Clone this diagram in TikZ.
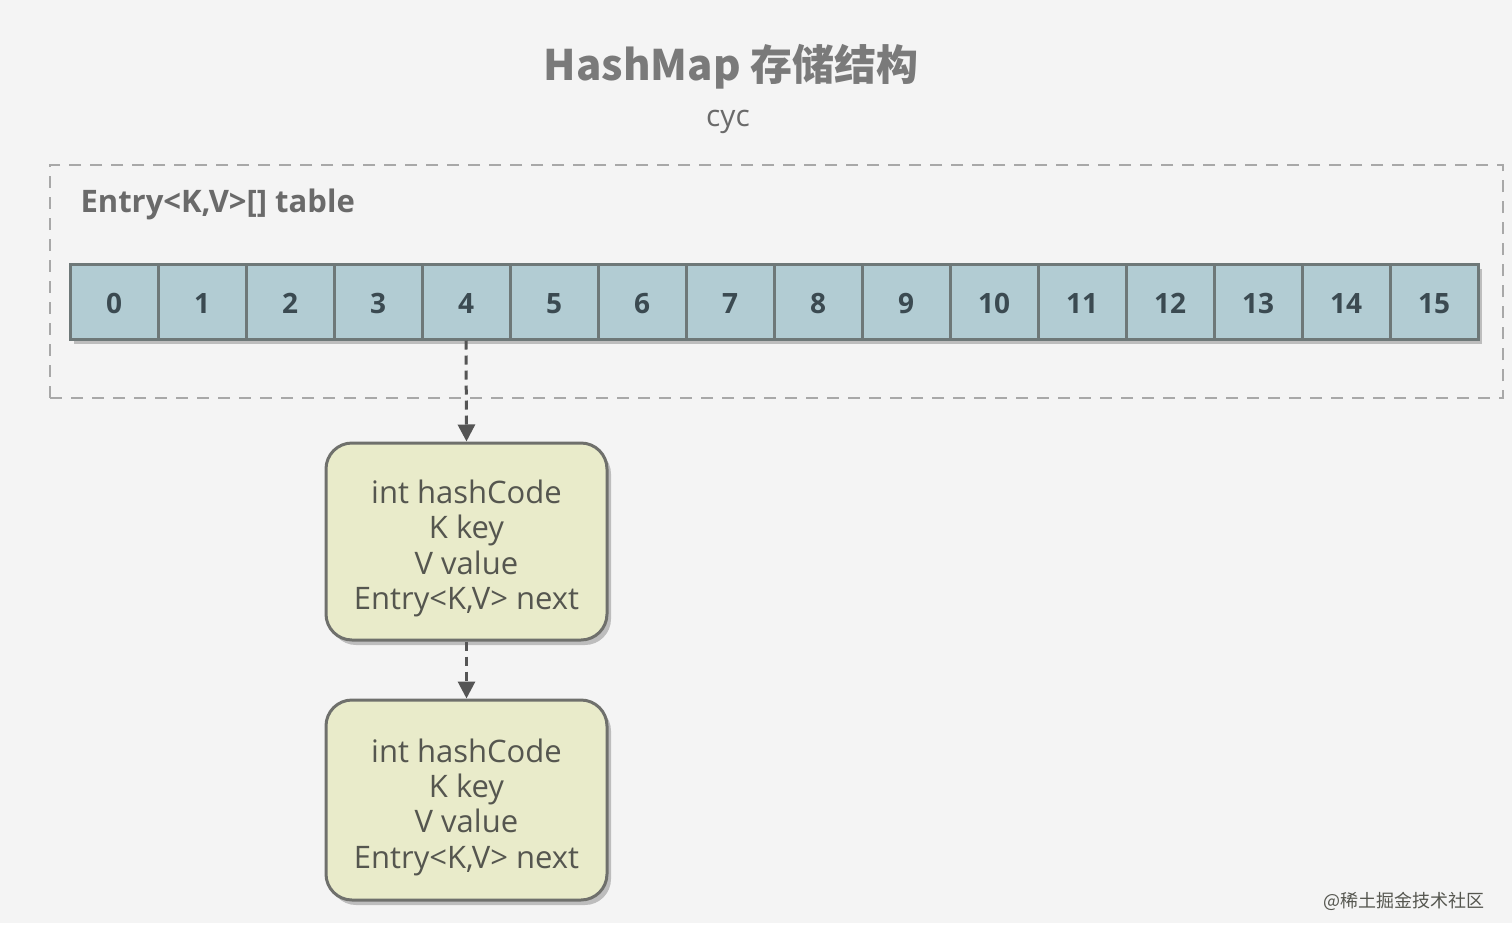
\documentclass[tikz,border=0pt]{standalone}
\usepackage{fontspec}
\setmainfont{Open Sans}
\newfontfamily\cjk{Noto Sans CJK SC}
\usetikzlibrary{arrows.meta,shadows}
\definecolor{bgc}{HTML}{F4F4F4}
\definecolor{framec}{HTML}{A8A8A8}
\definecolor{cellfill}{HTML}{B2CCD3}
\definecolor{cellline}{HTML}{6E7878}
\definecolor{numc}{HTML}{3B4A51}
\definecolor{boxfill}{HTML}{E9EBCA}
\definecolor{boxline}{HTML}{6F706C}
\definecolor{titlec}{HTML}{7A7A7A}
\definecolor{labelc}{HTML}{6A6A6A}
\definecolor{textc}{HTML}{55564F}
\definecolor{arrowc}{HTML}{555555}
\definecolor{shadowc}{HTML}{BDBDBD}
\newcommand{\entrytext}{\raisebox{-8pt}[\height][\depth]{\begin{tabular}{@{}c@{}}int hashCode\\K key\\V value\\Entry<K,V> next\end{tabular}}}
\tikzset{
  cellbox/.style={draw=cellline, line width=3pt, fill=cellfill, minimum width=88pt, minimum height=75pt, inner sep=0pt,
    font=\fontsize{28}{30}\selectfont\bfseries, text=numc,
    drop shadow={shadow xshift=4pt, shadow yshift=-5pt, fill=shadowc, opacity=1}},
  entrybox/.style={draw=boxline, line width=3pt, fill=boxfill, rounded corners=26pt, minimum width=281pt, inner sep=0pt,
    align=center, font=\fontsize{31}{35.3}\selectfont, text=textc,
    drop shadow={shadow xshift=4pt, shadow yshift=-5pt, fill=shadowc, opacity=1}},
  linkarrow/.style={draw=arrowc, line width=3pt, dash pattern=on 9pt off 6pt, -{Triangle[length=17pt,width=17pt]}},
}
\begin{document}
\begin{tikzpicture}[x=1pt,y=-1pt]
\fill[white] (0,0) rectangle (1512,937);
\fill[bgc] (0,0) rectangle (1512,923);
\useasboundingbox (0,0) rectangle (1512,937);
% title
\node[text=titlec, font=\cjk\bfseries\fontsize{42}{46}\selectfont] (title) at (731,67) {HashMap 存储结构};
\node[text=labelc, font=\fontsize{30}{32}\selectfont] (author) at (728,122) {cyc};
% frame
\node[draw=framec, line width=2.5pt, dash pattern=on 12pt off 9pt, minimum width=1453pt, minimum height=233pt, inner sep=0pt] (frame) at (776.5,281.5) {};
\node[anchor=west, text=labelc, font=\fontsize{31}{34}\selectfont\bfseries] (tlabel) at (77,204) {Entry<K,V>[] table};
% cells
\foreach \i in {0,...,15}{
  \node[cellbox] (c\i) at ({114+88*\i},301.5) {\raisebox{-2pt}[\height][\depth]{\i}};
}
% entries
\node[entrybox, minimum height=197pt] (e1) at (466.5,541.5) {\entrytext};
\node[entrybox, minimum height=200pt] (e2) at (466.5,800) {\entrytext};
% arrows
\draw[linkarrow] (c4.south) -- (e1.north);
\draw[linkarrow] (e1.south) -- (e2.north);
% watermark
\node[anchor=east, text=textc, font=\cjk\fontsize{18}{20}\selectfont] (wm) at (1488,901) {@稀土掘金技术社区};
\end{tikzpicture}
\end{document}
